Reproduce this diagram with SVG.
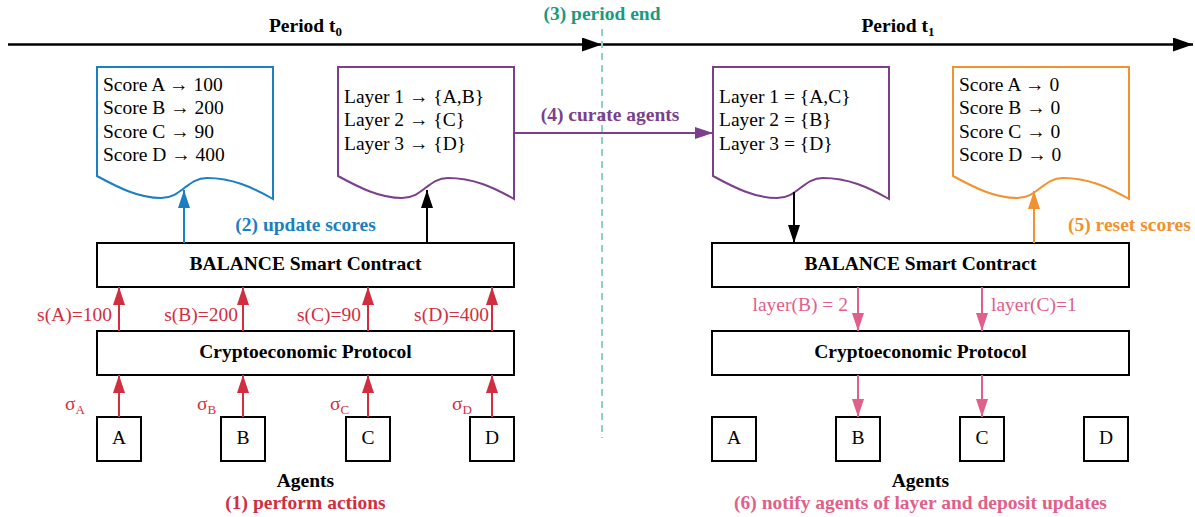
<svg xmlns="http://www.w3.org/2000/svg" width="1195" height="517" viewBox="0 0 1195 517">
<style>
text{font-family:"Liberation Serif","Times New Roman",serif;font-size:19.5px;fill:#000}
.b{font-weight:bold}
.box{fill:#fff;stroke:#000;stroke-width:2}
.doc{fill:#fff;stroke-width:2}
.red{fill:#d12f3f}
.pink{fill:#e0608a}
.c{text-anchor:middle}
.e{text-anchor:end}
</style>
<defs>
<path id="docshape" d="M0,0 H176 V132 C155,120 135,111 110,111 C90,111 85,131 64,131 C42,131 22,121 0,109 Z"/>
<marker id="hk" markerUnits="userSpaceOnUse" markerWidth="22" markerHeight="16" refX="20" refY="7" orient="auto"><path d="M0,0 L20,7 L0,14 Z" fill="#000"/></marker>
<marker id="ak" markerUnits="userSpaceOnUse" markerWidth="20" markerHeight="14" refX="18" refY="6" orient="auto"><path d="M0,0 L18,6 L0,12 Z" fill="#000"/></marker>
<marker id="ar" markerUnits="userSpaceOnUse" markerWidth="20" markerHeight="14" refX="18" refY="6" orient="auto"><path d="M0,0 L18,6 L0,12 Z" fill="#d12f3f"/></marker>
<marker id="ap" markerUnits="userSpaceOnUse" markerWidth="20" markerHeight="14" refX="18" refY="6" orient="auto"><path d="M0,0 L18,6 L0,12 Z" fill="#e0608a"/></marker>
<marker id="ab" markerUnits="userSpaceOnUse" markerWidth="20" markerHeight="14" refX="18" refY="6" orient="auto"><path d="M0,0 L18,6 L0,12 Z" fill="#1b7fc0"/></marker>
<marker id="au" markerUnits="userSpaceOnUse" markerWidth="20" markerHeight="14" refX="18" refY="6" orient="auto"><path d="M0,0 L18,6 L0,12 Z" fill="#7b3f8c"/></marker>
<marker id="ao" markerUnits="userSpaceOnUse" markerWidth="20" markerHeight="14" refX="18" refY="6" orient="auto"><path d="M0,0 L18,6 L0,12 Z" fill="#f0922e"/></marker>
</defs>

<g id="timeline">
<line x1="8" y1="44.5" x2="602" y2="44.5" stroke="#000" stroke-width="2.5" marker-end="url(#hk)"/>
<line x1="602" y1="44.5" x2="1193" y2="44.5" stroke="#000" stroke-width="2.5" marker-end="url(#hk)"/>
<line x1="602" y1="29" x2="602" y2="438" stroke="#8fd3c5" stroke-width="2" stroke-dasharray="7 5"/>
<text class="b c" x="305.5" y="32">Period t<tspan font-size="13" dy="4">0</tspan></text>
<text class="b c" x="898" y="32">Period t<tspan font-size="13" dy="4">1</tspan></text>
<text class="b c" x="602" y="20" style="fill:#1a9a7e">(3) period end</text>
</g>

<g id="scores-t0">
<use href="#docshape" x="97" y="67" class="doc" stroke="#1b7fc0"/>
<text x="103" y="90.5">Score A → 100</text>
<text x="103" y="114">Score B → 200</text>
<text x="103" y="137.5">Score C → 90</text>
<text x="103" y="161">Score D → 400</text>
</g>

<g id="layers-t0">
<use href="#docshape" x="338" y="67" class="doc" stroke="#7b3f8c"/>
<text x="344" y="102.5">Layer 1 → {A,B}</text>
<text x="344" y="126">Layer 2 → {C}</text>
<text x="344" y="149.5">Layer 3 → {D}</text>
</g>

<g id="layers-t1">
<use href="#docshape" x="713" y="67" class="doc" stroke="#7b3f8c"/>
<text x="719" y="102.5">Layer 1 = {A,C}</text>
<text x="719" y="126">Layer 2 = {B}</text>
<text x="719" y="149.5">Layer 3 = {D}</text>
</g>

<g id="scores-t1">
<use href="#docshape" x="953" y="67" class="doc" stroke="#f0922e"/>
<text x="959" y="90.5">Score A → 0</text>
<text x="959" y="114">Score B → 0</text>
<text x="959" y="137.5">Score C → 0</text>
<text x="959" y="161">Score D → 0</text>
</g>

<g id="balance-t0">
<rect class="box" x="97" y="243" width="417" height="44"/>
<text class="b c" x="305.5" y="269.5">BALANCE Smart Contract</text>
</g>
<g id="crypto-t0">
<rect class="box" x="97" y="331" width="417" height="44"/>
<text class="b c" x="305.5" y="357.5">Cryptoeconomic Protocol</text>
</g>
<g id="balance-t1">
<rect class="box" x="712" y="243" width="417" height="44"/>
<text class="b c" x="920.5" y="269.5">BALANCE Smart Contract</text>
</g>
<g id="crypto-t1">
<rect class="box" x="712" y="331" width="417" height="44"/>
<text class="b c" x="920.5" y="357.5">Cryptoeconomic Protocol</text>
</g>

<g id="agents-t0">
<rect class="box" x="97" y="417" width="44" height="44"/><text class="c" x="119" y="444">A</text>
<rect class="box" x="221" y="417" width="44" height="44"/><text class="c" x="243" y="444">B</text>
<rect class="box" x="346" y="417" width="44" height="44"/><text class="c" x="368" y="444">C</text>
<rect class="box" x="470" y="417" width="44" height="44"/><text class="c" x="492" y="444">D</text>
<text class="b c" x="305.5" y="486.5">Agents</text>
<text class="b c red" x="305.5" y="508.5">(1) perform actions</text>
</g>

<g id="agents-t1">
<rect class="box" x="712" y="417" width="44" height="44"/><text class="c" x="734" y="444">A</text>
<rect class="box" x="836" y="417" width="44" height="44"/><text class="c" x="858" y="444">B</text>
<rect class="box" x="960" y="417" width="44" height="44"/><text class="c" x="982" y="444">C</text>
<rect class="box" x="1084" y="417" width="44" height="44"/><text class="c" x="1106" y="444">D</text>
<text class="b c" x="920.5" y="486.5">Agents</text>
<text class="b c pink" x="920.5" y="508.5">(6) notify agents of layer and deposit updates</text>
</g>

<g id="connectors" fill="none" stroke-width="2">
<line x1="184" y1="243" x2="184" y2="190" stroke="#1b7fc0" marker-end="url(#ab)"/>
<line x1="427" y1="243" x2="427" y2="190" stroke="#000" marker-end="url(#ak)"/>
<line x1="514" y1="133" x2="713" y2="133" stroke="#7b3f8c" marker-end="url(#au)"/>
<line x1="794" y1="192" x2="794" y2="243" stroke="#000" marker-end="url(#ak)"/>
<line x1="1034" y1="243" x2="1034" y2="191" stroke="#f0922e" marker-end="url(#ao)"/>

<line x1="119" y1="331" x2="119" y2="287" stroke="#d12f3f" marker-end="url(#ar)"/>
<line x1="243" y1="331" x2="243" y2="287" stroke="#d12f3f" marker-end="url(#ar)"/>
<line x1="368" y1="331" x2="368" y2="287" stroke="#d12f3f" marker-end="url(#ar)"/>
<line x1="492" y1="331" x2="492" y2="287" stroke="#d12f3f" marker-end="url(#ar)"/>
<line x1="119" y1="417" x2="119" y2="375" stroke="#d12f3f" marker-end="url(#ar)"/>
<line x1="243" y1="417" x2="243" y2="375" stroke="#d12f3f" marker-end="url(#ar)"/>
<line x1="368" y1="417" x2="368" y2="375" stroke="#d12f3f" marker-end="url(#ar)"/>
<line x1="492" y1="417" x2="492" y2="375" stroke="#d12f3f" marker-end="url(#ar)"/>

<line x1="858" y1="287" x2="858" y2="331" stroke="#e0608a" marker-end="url(#ap)"/>
<line x1="982" y1="287" x2="982" y2="331" stroke="#e0608a" marker-end="url(#ap)"/>
<line x1="858" y1="375" x2="858" y2="417" stroke="#e0608a" marker-end="url(#ap)"/>
<line x1="982" y1="375" x2="982" y2="417" stroke="#e0608a" marker-end="url(#ap)"/>
</g>

<g id="labels">
<text class="b c" x="305.5" y="231" style="fill:#1b7fc0">(2) update scores</text>
<text class="b c" x="610" y="121" style="fill:#7b3f8c">(4) curate agents</text>
<text class="b" x="1068" y="231" style="fill:#f0922e">(5) reset scores</text>
<text class="red e" x="112" y="321">s(A)=100</text>
<text class="red e" x="238" y="321">s(B)=200</text>
<text class="red e" x="361" y="321">s(C)=90</text>
<text class="red e" x="489" y="321">s(D)=400</text>
<text class="red" x="65" y="410">σ<tspan font-size="13" dy="4">A</tspan></text>
<text class="red" x="197" y="410">σ<tspan font-size="13" dy="4">B</tspan></text>
<text class="red" x="330" y="410">σ<tspan font-size="13" dy="4">C</tspan></text>
<text class="red" x="452" y="410">σ<tspan font-size="13" dy="4">D</tspan></text>
<text class="pink e" x="848" y="311">layer(B) = 2</text>
<text class="pink" x="991" y="311">layer(C)=1</text>
</g>
</svg>
